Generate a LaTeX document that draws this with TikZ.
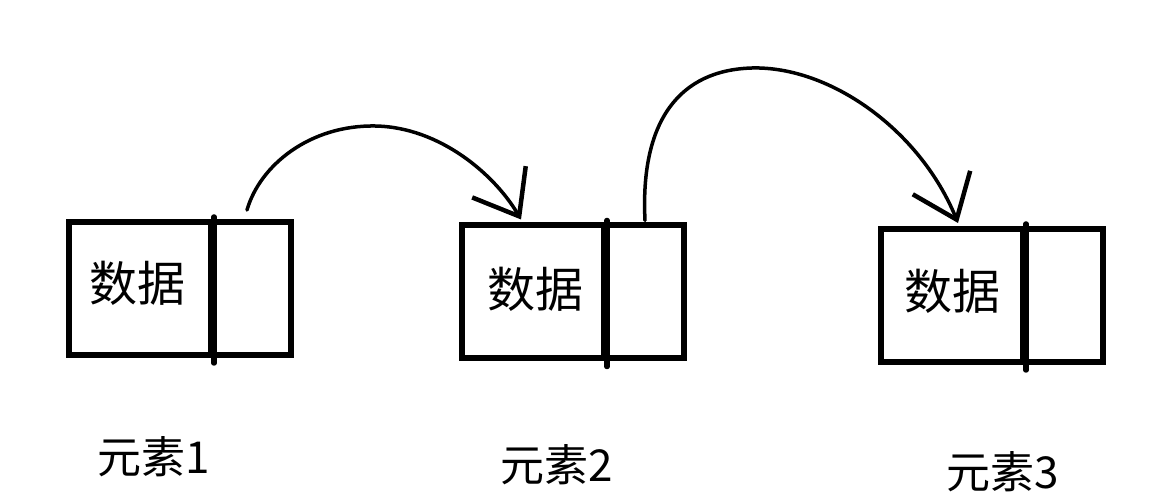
\documentclass[tikz,border=0pt]{standalone}
\usepackage{fontspec}
\newfontfamily\cjk{Noto Sans CJK SC}
\usetikzlibrary{arrows.meta}
\begin{document}
\begin{tikzpicture}[x=1pt,y=-1pt,
  cell/.style={draw=black, line width=6pt, inner sep=0pt, minimum height=133pt},
  datacell/.style={cell, minimum width=142pt},
  ptrcell/.style={cell, minimum width=80pt},
  datatext/.style={font=\cjk\fontsize{48}{48}\selectfont, inner sep=0pt},
  divider/.style={line width=5.5pt, line cap=round},
  link/.style={line width=3.5pt, line cap=round, -{Straight Barb[length=40pt,width=62pt,line width=4.5pt]}},
  lbl/.style={font=\cjk\fontsize{44}{44}\selectfont, inner sep=0pt}]
\fill[white] (0,0) rectangle (1149,502);
\useasboundingbox (0,0) rectangle (1149,502);
% element 1
\node[datacell] (d1) at (140,288.5) {};
\node[ptrcell] (p1) at (251,288.5) {};
\node[datatext] (t1) at (137,283) {数据};
\draw[divider] ([yshift=2pt]d1.north east) -- ([yshift=-5pt]d1.south east);
% element 2
\node[datacell] (d2) at (533,292) {};
\node[ptrcell] (p2) at (644,292) {};
\node[datatext] (t2) at (535,289) {数据};
\draw[divider] ([yshift=2pt]d2.north east) -- ([yshift=-5pt]d2.south east);
% element 3
\node[datacell] (d3) at (952,295.5) {};
\node[ptrcell] (p3) at (1063,295.5) {};
\node[datatext] (t3) at (952,291) {数据};
\draw[divider] ([yshift=2pt]d3.north east) -- ([yshift=-5pt]d3.south east);
% labels
\node[lbl] (l1) at (154,457) {元素1};
\node[lbl] (l2) at (557,465) {元素2};
\node[lbl] (l3) at (1003,472) {元素3};
% links
\coordinate (s1) at ([xshift=-4pt,yshift=9pt]p1.north);
\coordinate (e1) at ([xshift=-12pt,yshift=3pt]d2.north);
\coordinate (m1) at (375,126);
\draw[link] (s1) .. controls (260,165) and (310,125) .. (m1)
  .. controls (440,127) and (495,175) .. (e1);
\coordinate (s2) at ([xshift=1pt,yshift=2pt]p2.north);
\coordinate (e2) at ([xshift=6pt,yshift=3pt]d3.north);
\coordinate (m2) at (752,68);
\draw[link] (s2) .. controls (640,120) and (680,70) .. (m2)
  .. controls (830,66) and (920,130) .. (e2);
\end{tikzpicture}
\end{document}
